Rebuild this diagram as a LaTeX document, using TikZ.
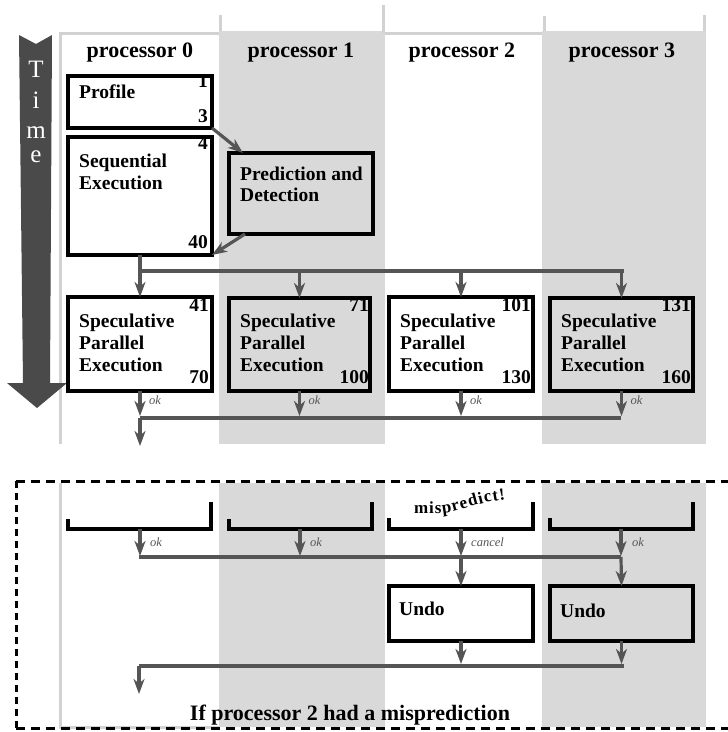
\documentclass[tikz,border=0pt]{standalone}
\usepackage{fontspec}
\setmainfont{Liberation Serif}
\usetikzlibrary{arrows.meta,decorations.text}
\definecolor{lanegray}{HTML}{D9D9D9}
\definecolor{edgegray}{HTML}{D2D2D2}
\definecolor{arrgray}{HTML}{555555}
\definecolor{timegray}{HTML}{4A4A4A}
\tikzset{
  procbox/.style={draw=black, line width=3.6pt, rectangle, inner sep=0pt, outer sep=0pt, anchor=north west},
  lbl/.style={font=\bfseries\fontsize{19.5}{22}\selectfont, anchor=base west, inner sep=0pt},
  num/.style={font=\bfseries\fontsize{19.5}{22}\selectfont, anchor=base east, inner sep=0pt},
  hdr/.style={font=\bfseries\fontsize{22}{26}\selectfont, anchor=base, inner sep=0pt},
  arr/.style={draw=arrgray, line width=3.2pt, -{Stealth[length=15pt,width=11pt,inset=4.5pt]}},
  wire/.style={draw=arrgray, line width=3.2pt},
  oklbl/.style={font=\itshape\fontsize{12.5}{14}\selectfont, text=arrgray, anchor=base west, inner sep=0pt},
  edge/.style={draw=edgegray, line width=3pt},
  bracket/.style={draw=black, line width=3.6pt},
  timeltr/.style={font=\fontsize{25}{28}\selectfont, text=white, anchor=base, inner sep=0pt}
}
\begin{document}
\begin{tikzpicture}[x=1pt,y=-1pt]
\useasboundingbox (0,0) rectangle (728,732);
% ---------- top lanes ----------
\fill[lanegray] (219,31) rectangle (385,444);
\fill[lanegray] (542,31) rectangle (706,444);
\draw[edge] (60,444) -- (60,33) -- (219,33);
\draw[edge] (385,33) -- (542,33);
\draw[edge] (220,15) -- (220,31);
\draw[edge] (383,5) -- (383,33);
\draw[edge] (544,16) -- (544,31);
\draw[edge] (704,15) -- (704,31);
% time arrow
\fill[timegray] (19,35) -- (36,44) -- (52,35) -- (50,383) -- (67,383) -- (37,408) -- (7,383) -- (23,383) -- cycle;
\node[timeltr] (tT) at (36,77) {T};
\node[timeltr] (ti) at (36,108) {i};
\node[timeltr] (tm) at (36,138) {m};
\node[timeltr] (te) at (36,162) {e};
% headers
\node[hdr] (h0) at (140,57) {processor 0};
\node[hdr] (h1) at (301,57) {processor 1};
\node[hdr] (h2) at (462,57) {processor 2};
\node[hdr] (h3) at (622,57) {processor 3};
% boxes
\node[procbox, fill=white, minimum width=144pt, minimum height=52pt] (prof) at (68,76) {};
\node[lbl] (profl) at (79,98) {Profile};
\node[num] (prof1) at (208,87) {1};
\node[num] (prof3) at (208,122) {3};
\node[procbox, fill=white, minimum width=144pt, minimum height=118pt] (seq) at (68,137) {};
\node[lbl] (seqa) at (79,167) {Sequential};
\node[lbl] (seqb) at (79,189) {Execution};
\node[num] (seq4) at (208,149) {4};
\node[num] (seq40) at (208,248) {40};
\node[procbox, fill=lanegray, minimum width=144pt, minimum height=81pt] (pred) at (229,153) {};
\node[lbl] (preda) at (240,180) {Prediction and};
\node[lbl] (predb) at (240,201) {Detection};
\draw[arr] (prof.south east) -- ([xshift=14pt]pred.north west);
\draw[arr] ([xshift=16pt]pred.south west) -- (seq.south east);
% speculative boxes
\node[procbox, fill=white, minimum width=144pt, minimum height=94pt] (sp0) at (68,297) {};
\node[procbox, fill=lanegray, minimum width=141pt, minimum height=93pt] (sp1) at (229,298) {};
\node[procbox, fill=white, minimum width=144pt, minimum height=94pt] (sp2) at (389,297) {};
\node[procbox, fill=lanegray, minimum width=143pt, minimum height=93pt] (sp3) at (550,298) {};
\foreach \b/\x/\r/\t/\e in {0/79/209/41/70, 1/240/369/71/100, 2/400/531/101/130, 3/561/691/131/160}{
  \node[lbl] (sp\b a) at (\x,327) {Speculative};
  \node[lbl] (sp\b b) at (\x,349) {Parallel};
  \node[lbl] (sp\b c) at (\x,371) {Execution};
  \node[num] (sp\b t) at (\r,311) {\t};
  \node[num] (sp\b e) at (\r,383) {\e};
}
% distribution
\coordinate (busL) at (140,271);
\coordinate (busR) at (624,271);
\draw[wire] (busL) -- (busR);
\draw[arr] (seq.south -| sp0.north) -- (sp0.north);
\draw[arr] (sp1.north |- busL) -- (sp1.north);
\draw[arr] (sp2.north |- busL) -- (sp2.north);
\draw[arr] (sp3.north |- busL) -- (sp3.north);
% join
\coordinate (joinL) at (140,418);
\coordinate (joinR) at (621,418);
\coordinate (joinOut) at (140,446);
\draw[wire] (joinL) -- (joinR);
\foreach \b in {0,1,2,3}{
  \draw[arr] (sp\b.south) -- ([yshift=2pt]sp\b.south |- joinL);
  \node[oklbl] (ok\b) at ([xshift=9pt]sp\b.south |- 0,404) {ok};
}
\draw[arr] (joinL) -- (joinOut);
% ---------- bottom scenario ----------
\fill[lanegray] (219,483) rectangle (385,727);
\fill[lanegray] (542,483) rectangle (706,727);
\draw[edge] (60,483) -- (60,727) -- (219,727);
\draw[black, line width=3pt, dash pattern=on 9pt off 6pt] (16,481) -- (740,481);
\draw[black, line width=3pt, dash pattern=on 9pt off 6pt] (16,728) -- (740,728);
\draw[black, line width=3pt, dash pattern=on 7pt off 5pt] (16,481) -- (16,728);
% brackets (bottoms of boxes)
\coordinate (b0) at (140,529);
\coordinate (b1) at (300,529);
\coordinate (b2) at (461,529);
\coordinate (b3) at (621,529);
\draw[bracket] (68,519) -- (68,529) -- (211,529) -- (211,502);
\draw[bracket] (229,519) -- (229,529) -- (372,529) -- (372,502);
\draw[bracket] (389,518) -- (389,529) -- (533,529) -- (533,502);
\draw[bracket] (550,518) -- (550,529) -- (693,529) -- (693,502);
\path[decorate, decoration={text along path, text align=left,
  text={|\bfseries\fontsize{17}{20}\selectfont|m{\kern1pt}i{\kern1pt}s{\kern1pt}p{\kern1pt}r{\kern1pt}e{\kern1pt}d{\kern1pt}i{\kern1pt}c{\kern1pt}t{\kern1pt}!}}]
  (414,513) -- (444,513) .. controls (458,512) and (474,503) .. (508,499) -- (560,496);
% ok / cancel
\coordinate (j2L) at (139,557);
\coordinate (j2R) at (621,557);
\draw[wire] (j2L) -- (j2R);
\draw[arr] (b0) -- ([yshift=1pt]b0 |- j2L);
\draw[arr] (b1) -- ([yshift=1pt]b1 |- j2L);
\draw[arr] (b2) -- ([yshift=1pt]b2 |- j2L);
\draw[arr] (b3) -- ([yshift=1pt]b3 |- j2L);
\node[oklbl] (bok0) at (150,546) {ok};
\node[oklbl] (bok1) at (310,546) {ok};
\node[oklbl] (bcan) at (471,546) {cancel};
\node[oklbl] (bok3) at (632,546) {ok};
% undo boxes
\node[procbox, fill=white, minimum width=144pt, minimum height=55pt] (u2) at (389,586) {};
\node[procbox, fill=lanegray, minimum width=143pt, minimum height=55pt] (u3) at (550,586) {};
\node[lbl] (u2l) at (399,615) {Undo};
\node[lbl] (u3l) at (560,617) {Undo};
\draw[arr] (b2 |- j2L) -- (u2.north);
\draw[arr] (b3 |- j2L) -- (u3.north);
\coordinate (j3L) at (139,666);
\coordinate (j3R) at (624,666);
\coordinate (j3Out) at (139,694);
\draw[wire] (j3L) -- (j3R);
\draw[arr] (u2.south) -- ([yshift=2pt]u2.south |- j3L);
\draw[arr] (u3.south) -- ([yshift=2pt]u3.south |- j3L);
\draw[arr] (j3L) -- (j3Out);
\node[hdr] (cap) at (350,720) {If processor 2 had a misprediction};
\end{tikzpicture}
\end{document}
